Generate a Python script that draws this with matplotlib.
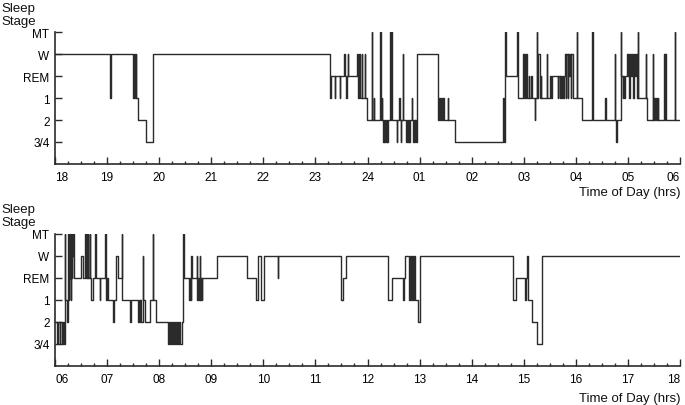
"""
Hypnogram over a 24 h period: sleep stage against time of day,
split in two panels (18:00 -> 06:00 and 06:00 -> 18:00).
"""
import matplotlib.pyplot as plt
from matplotlib.ticker import MultipleLocator

plt.rcParams['font.family'] = ['Liberation Sans', 'DejaVu Sans']

# stage codes: 0 = 3/4, 1 = 2, 2 = 1, 3 = REM, 4 = W, 5 = MT
stage_labels = ['3/4', '2', '1', 'REM', 'W', 'MT']

# evening / night panel, hours after midnight written as 24+
night_t = [18.00, 19.05, 19.07, 19.50, 19.52, 19.53, 19.55, 19.56, 19.59, 19.75, 19.88,
           23.28, 23.30, 23.37, 23.38, 23.47, 23.48, 23.55, 23.56, 23.58, 23.60,
           23.62, 23.63, 23.80, 23.82, 23.84, 23.86, 23.89, 23.90, 23.95, 23.96, 23.99,
           24.08, 24.09, 24.12, 24.13, 24.24, 24.25, 24.27, 24.28, 24.30, 24.31,
           24.32, 24.34, 24.35, 24.37, 24.38, 24.39, 24.44, 24.45, 24.46, 24.47,
           24.56, 24.57, 24.61, 24.62, 24.64, 24.65, 24.68, 24.69, 24.74, 24.75,
           24.78, 24.79, 24.80, 24.81, 24.85, 24.86, 24.88, 24.89, 24.91, 24.92, 24.93, 24.95,
           25.35, 25.38, 25.39, 25.42, 25.43, 25.45, 25.46, 25.54, 25.55, 25.68,
           26.60, 26.62, 26.64, 26.65, 26.87, 26.88, 26.98, 27.00, 27.01, 27.03,
           27.04, 27.07, 27.10, 27.11, 27.14, 27.15, 27.21, 27.22, 27.25, 27.26,
           27.27, 27.31, 27.33, 27.34, 27.44, 27.45, 27.50, 27.53, 27.54, 27.65,
           27.66, 27.69, 27.70, 27.72, 27.73, 27.76, 27.77, 27.79, 27.81, 27.82,
           27.84, 27.85, 27.87, 27.88, 27.90, 27.91, 27.94, 28.02, 28.03, 28.12,
           28.31, 28.32, 28.56, 28.57, 28.75, 28.76, 28.78, 28.79, 28.86, 28.87,
           28.90, 28.91, 28.93, 28.94, 28.98, 29.00, 29.01, 29.03, 29.04, 29.06,
           29.07, 29.10, 29.11, 29.14, 29.15, 29.17, 29.19, 29.20, 29.34, 29.35,
           29.37, 29.48, 29.49, 29.51, 29.52, 29.54, 29.55, 29.57, 29.58, 29.70,
           29.71, 29.72, 29.73, 29.90, 29.91, 30.00]
night_s = [4, 2, 4, 2, 4, 2, 4, 2, 1, 0, 4,
           2, 3, 2, 3, 2, 3, 4, 3, 2, 3,
           4, 3, 4, 2, 4, 2, 4, 2, 4, 2, 1,
           5, 1, 2, 1, 5, 1, 2, 1, 0, 1,
           0, 1, 0, 1, 0, 1, 5, 1, 5, 1,
           0, 1, 2, 1, 0, 1, 4, 1, 0, 1,
           0, 1, 0, 1, 2, 1, 0, 1, 0, 1, 0, 4,
           1, 2, 1, 2, 1, 2, 1, 2, 1, 0,
           2, 0, 5, 3, 5, 2, 4, 2, 4, 2,
           4, 2, 3, 2, 3, 2, 1, 2, 5, 2,
           4, 2, 3, 2, 4, 2, 3, 2, 3, 2,
           3, 2, 3, 2, 3, 2, 3, 4, 2, 4,
           2, 4, 3, 4, 2, 4, 2, 5, 2, 1,
           5, 1, 2, 1, 4, 1, 0, 1, 5, 3,
           2, 3, 2, 3, 4, 3, 4, 2, 4, 3,
           4, 2, 4, 3, 4, 2, 5, 2, 4, 2,
           1, 4, 1, 2, 1, 2, 1, 2, 1, 4,
           1, 4, 1, 5, 1, 1]
night_ticks = ['18', '19', '20', '21', '22', '23', '24',
               '01', '02', '03', '04', '05', '06']

# morning / day panel
day_t = [6.00, 6.04, 6.05, 6.09, 6.10, 6.14, 6.15, 6.18, 6.19, 6.20,
         6.23, 6.24, 6.25, 6.26, 6.27, 6.28, 6.29, 6.30, 6.31, 6.32,
         6.33, 6.34, 6.35, 6.37, 6.50, 6.53, 6.58, 6.59, 6.61, 6.62,
         6.63, 6.64, 6.67, 6.68, 6.70, 6.72, 6.77, 6.78, 6.86, 6.87,
         6.96, 6.97, 7.00, 7.01,
         7.12, 7.14, 7.17, 7.21, 7.28, 7.29, 7.44, 7.46, 7.60, 7.61,
         7.63, 7.64, 7.66, 7.68, 7.69, 7.72, 7.82, 7.88, 7.89, 7.93,
         8.16, 8.18, 8.20, 8.22, 8.24, 8.26, 8.28, 8.30, 8.32, 8.34,
         8.36, 8.38, 8.40, 8.43, 8.45, 8.47, 8.58, 8.59, 8.61, 8.62,
         8.63, 8.72, 8.73, 8.75, 8.76, 8.78, 8.79, 8.81, 8.82, 8.83,
         9.11, 9.69, 9.86, 9.89, 9.96, 10.01, 10.28, 10.29, 11.49, 11.52,
         11.59, 12.40, 12.47, 12.68, 12.70, 12.72, 12.80, 12.82, 12.84, 12.86,
         12.88, 12.90, 12.92, 12.96, 13.00, 14.79, 14.86, 15.02, 15.04, 15.06,
         15.08, 15.16, 15.25, 15.35, 18.00]
day_s = [1, 0, 1, 0, 1, 0, 1, 0, 5, 2,
         1, 2, 5, 2, 5, 3, 5, 2, 5, 3,
         5, 4, 5, 3, 4, 3, 5, 3, 5, 3,
         5, 3, 5, 3, 2, 3, 5, 3, 2, 3,
         5, 2, 3, 2,
         1, 2, 4, 3, 5, 2, 1, 2, 1, 2,
         1, 2, 1, 4, 2, 1, 2, 5, 2, 1,
         0, 1, 0, 1, 0, 1, 0, 1, 0, 1,
         0, 1, 0, 1, 5, 3, 2, 3, 2, 4,
         3, 4, 2, 3, 2, 4, 2, 3, 2, 3,
         4, 3, 2, 4, 2, 4, 3, 4, 2, 3,
         4, 2, 3, 2, 3, 4, 2, 4, 2, 4,
         2, 4, 2, 1, 4, 2, 3, 2, 3, 4,
         2, 1, 0, 4, 4]
day_ticks = ['06', '07', '08', '09', '10', '11', '12',
             '13', '14', '15', '16', '17', '18']

INK = '#2b2b2b'


def draw_panel(ax, t, s, start, tick_labels):
    ax.step(t, s, where='post', color=INK, lw=1.0)
    ax.set_xlim(start, start + 12)
    ax.set_ylim(-1, 5)

    ax.set_xticks(range(start, start + 13))
    ax.set_xticklabels(tick_labels)
    ax.xaxis.set_minor_locator(MultipleLocator(0.25))
    ax.set_yticks(range(6))
    ax.set_yticklabels(stage_labels)

    for side in ['top', 'right']:
        ax.spines[side].set_visible(False)
    for side in ['left', 'bottom']:
        ax.spines[side].set_linewidth(1.2)
        ax.spines[side].set_color(INK)

    ax.tick_params(axis='x', which='major', direction='in', length=5, width=1.0,
                   color=INK, labelsize=8.5, pad=5)
    ax.tick_params(axis='x', which='minor', direction='in', length=2.5, width=1.0,
                   color=INK)
    ax.tick_params(axis='y', direction='in', length=5, width=1.0, color=INK,
                   labelsize=8.5, pad=4)

    # end labels sit inside the axis span
    labels = ax.get_xticklabels()
    labels[0].set_horizontalalignment('left')
    labels[-1].set_horizontalalignment('right')


fig = plt.figure(figsize=(6.85, 4.06), dpi=100)
ax_top = fig.add_axes([0.0803, 0.5936, 0.9124, 0.3251])
ax_bot = fig.add_axes([0.0803, 0.0961, 0.9124, 0.3251])

draw_panel(ax_top, night_t, night_s, 18, night_ticks)
draw_panel(ax_bot, day_t, day_s, 6, day_ticks)

for y_top in [0.992, 0.497]:
    fig.text(0.002, y_top, 'Sleep\nStage', fontsize=9.5, va='top', ha='left',
             linespacing=1.1, color='#111')
for y_lab in [0.525, 0.017]:
    fig.text(0.993, y_lab, 'Time of Day (hrs)', fontsize=9.5, va='center',
             ha='right', color='#111')

fig.savefig('out.png', dpi=100)
